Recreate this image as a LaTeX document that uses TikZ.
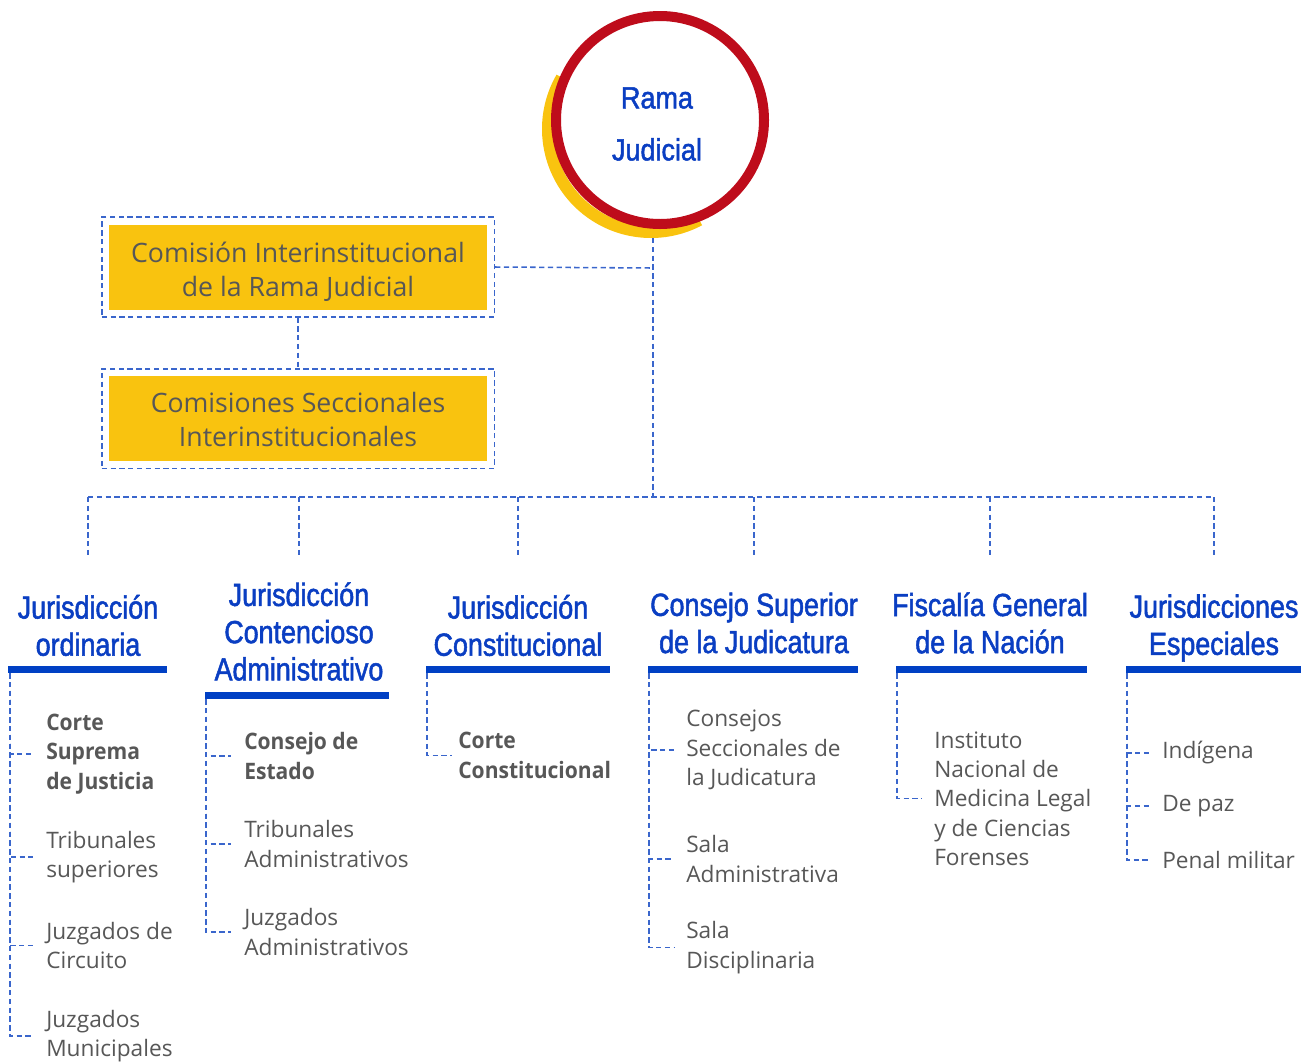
\documentclass[tikz,border=0pt]{standalone}
\usepackage{fontspec}
\setmainfont{Open Sans}
\newfontfamily\semifont[FakeStretch=0.93]{Open Sans}
\newfontfamily\condfont[FakeStretch=0.84,FakeBold=1.6]{Liberation Sans}
\newfontfamily\ramafont[FakeStretch=0.88,FakeBold=1.6]{Liberation Sans}
\usetikzlibrary{fit,calc}
\definecolor{rjred}{HTML}{BE0C1B}
\definecolor{rjyellow}{HTML}{F9C30F}
\definecolor{headblue}{HTML}{0A3EC2}
\definecolor{barblue}{HTML}{0040C4}
\definecolor{dashblue}{HTML}{3A66CC}
\definecolor{txtgray}{HTML}{575757}
\begin{document}
\begin{tikzpicture}[x=0.75pt,y=0.75pt,
  dl/.style={draw=dashblue, line width=1.15pt, dash pattern=on 4pt off 2.6pt},
  ybox/.style={fill=rjyellow, inner sep=0pt, minimum width=283.5pt, minimum height=63.75pt},
  ytext/.style={text=txtgray, inner sep=0pt, align=center, font=\fontsize{20}{25.5}\selectfont},
  dbox/.style={dl, inner sep=5.25pt},
  head/.style={text=headblue, inner sep=0pt, align=center, font=\condfont\fontsize{24}{27.9}\selectfont},
  bar/.style={fill=barblue, inner sep=0pt, minimum height=5.25pt},
  item/.style={text=txtgray, inner sep=0pt, anchor=west, align=left, font=\fontsize{17}{22}\selectfont},
  bitem/.style={item, font=\semifont\bfseries\fontsize{17}{22}\selectfont}
]
\useasboundingbox (0,0) rectangle (1301,-1061);

% ---- Rama Judicial circle
\draw[rjyellow, line width=9pt] ([shift={(150:103)}]651,-129) arc[start angle=150, end angle=298, radius=103];
\node[circle, draw=rjred, fill=white, line width=7.5pt, minimum size=156pt, inner sep=0pt] (rama) at (660,-120) {};
\node[text=headblue, align=center, inner sep=0pt, font=\ramafont\fontsize{23}{39}\selectfont] (ramatext) at (657,-124) {Rama\\Judicial};

% ---- yellow boxes
\node[ybox] (c1) at (298,-267) {};
\node[ytext] (c1t) at (298,-271.5) {Comisión Interinstitucional\\de la Rama Judicial};
\node[dbox, fit=(c1)] (c1box) {};
\node[ybox] (c2) at (298,-418.5) {};
\node[ytext] (c2t) at (298,-419.5) {Comisiones Seccionales\\Interinstitucionales};
\node[dbox, fit=(c2)] (c2box) {};

\coordinate (top) at (653,-238);
\coordinate (join) at (653,-268);
\coordinate (bus) at (653,-497);
\draw[dl] (top) -- (bus);
\draw[dl] (c1box.east) -- (join);
\draw[dl] (c1box.south) -- (c2box.north);

% ---- bus and drops
\coordinate (bL) at (88,-497);
\coordinate (bR) at (1214,-497);
\draw[dl] (bL) -- (bR);
\foreach \x/\n in {88/1,299/2,518/3,754/4,990/5,1214/6}{
  \coordinate (up\n) at (\x,-497);
  \coordinate (dn\n) at (\x,-558);
  \draw[dl] (up\n) -- (dn\n);
}

% ---- headers
\node[head] (h1) at (88,-625.5) {Jurisdicción\\ordinaria};
\node[head] (h2) at (299,-631.5) {Jurisdicción\\Contencioso\\Administrativo};
\node[head] (h3) at (518,-625.5) {Jurisdicción\\Constitucional};
\node[head] (h4) at (754,-623) {Consejo Superior\\de la Judicatura};
\node[head] (h5) at (990,-623) {Fiscalía General\\de la Nación};
\node[head] (h6) at (1214,-628) {Jurisdicciones\\Especiales};

\node[bar, minimum width=119.25pt] (bar1) at (87.5,-669.5) {};
\node[bar, minimum width=138pt] (bar2) at (297,-695.5) {};
\node[bar, minimum width=138pt] (bar3) at (518,-669.5) {};
\node[bar, minimum width=157.5pt] (bar4) at (753,-669.5) {};
\node[bar, minimum width=143.25pt] (bar5) at (991.5,-669.5) {};
\node[bar, minimum width=131.25pt] (bar6) at (1213.5,-669.5) {};

% ---- column 1
\node[bitem] (i11) at (46,-754) {Corte\\Suprema\\de Justicia};
\node[item] (i12) at (46,-857) {Tribunales\\superiores};
\node[item] (i13) at (46,-945.5) {Juzgados de\\Circuito};
\node[item] (i14) at (46,-1036) {Juzgados\\Municipales};
\foreach \i in {i11,i12,i13,i14}{
  \draw[dl] ($(bar1.south west)+(2,0)$) |- ([xshift=-9.75pt]\i.west);
}
% ---- column 2
\node[bitem] (i21) at (244,-756) {Consejo de\\Estado};
\node[item] (i22) at (244,-844) {Tribunales\\Administrativos};
\node[item] (i23) at (244,-932) {Juzgados\\Administrativos};
\foreach \i in {i21,i22,i23}{
  \draw[dl] ($(bar2.south west)+(1,0)$) |- ([xshift=-9.75pt]\i.west);
}
% ---- column 3
\node[bitem] (i31) at (458,-755.5) {Corte\\Constitucional};
\draw[dl] ($(bar3.south west)+(1,0)$) |- ([xshift=-4.5pt]i31.west);
% ---- column 4
\node[item] (i41) at (686,-750) {Consejos\\Seccionales de\\la Judicatura};
\node[item] (i42) at (686,-859) {Sala\\Administrativa};
\node[item] (i43) at (686,-947.5) {Sala\\Disciplinaria};
\foreach \i in {i41,i42,i43}{
  \draw[dl] ($(bar4.south west)+(1,0)$) |- ([xshift=-9pt]\i.west);
}
% ---- column 5
\node[item] (i51) at (934,-798.5) {Instituto\\Nacional de\\Medicina Legal\\y de Ciencias\\Forenses};
\draw[dl] ($(bar5.south west)+(1,0)$) |- ([xshift=-9pt]i51.west);
% ---- column 6
\node[item] (i61) at (1162,-753) {Indígena};
\node[item] (i62) at (1162,-806) {De paz};
\node[item] (i63) at (1162,-860) {Penal militar};
\foreach \i in {i61,i62,i63}{
  \draw[dl] ($(bar6.south west)+(1,0)$) |- ([xshift=-9pt]\i.west);
}
\end{tikzpicture}
\end{document}
